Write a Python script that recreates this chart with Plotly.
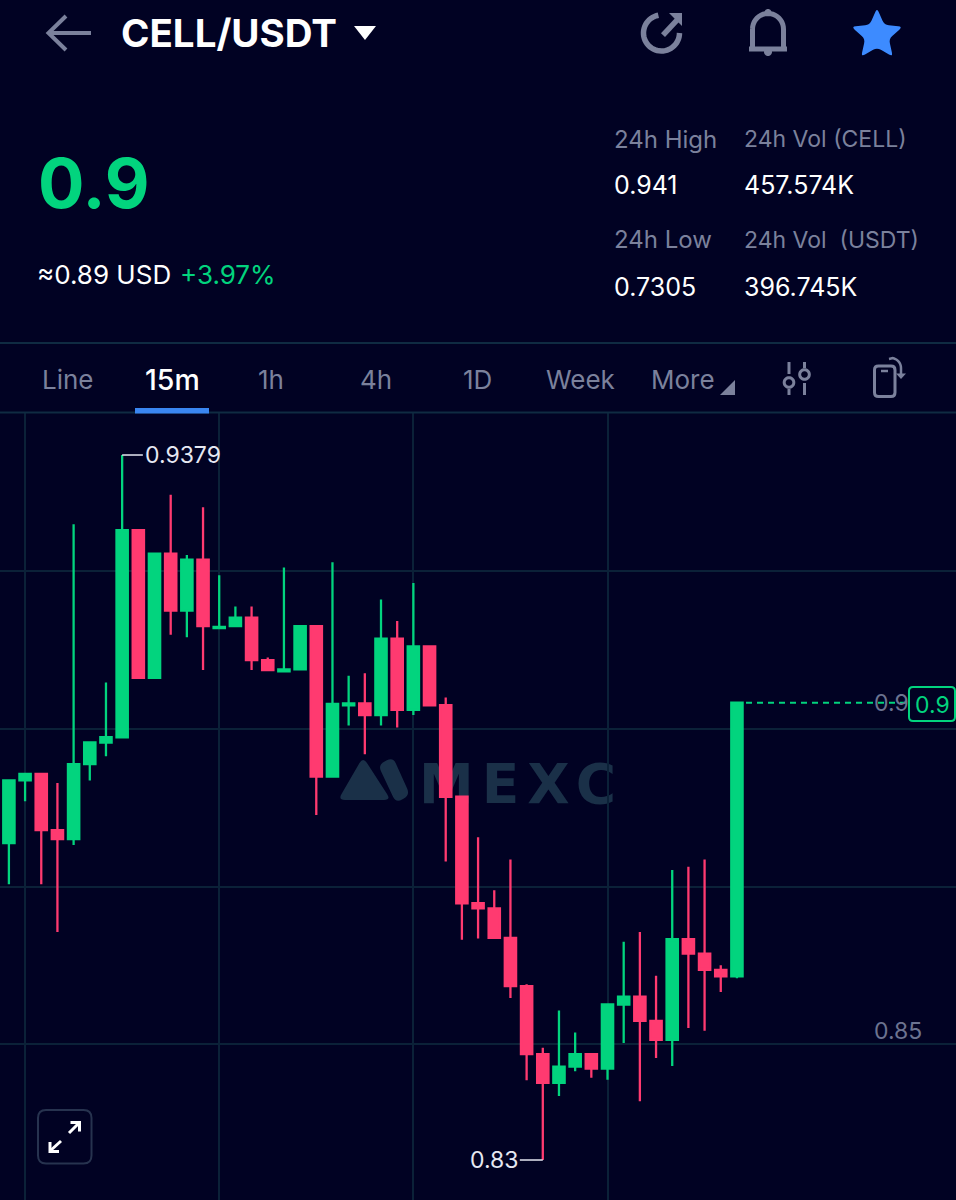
import math
import plotly.graph_objects as go

# ---------- data ----------
candle_index = list(range(46))
opens = [.8785,.8881,.8891,.8805,.8791,.8906,.8939,.8947,.9264,.9038,.9228,.9141,.9219,.9114,.9117,.9130,
         .9065,.9048,.9051,.9117,.8887,.8996,.8999,.8981,.9098,.8989,.9086,.8996,.8856,.8693,.8685,.8640,
         .8566,.8462,.8418,.8443,.8462,.8440,.8538,.8550,.8513,.8484,.8638,.8616,.8591,.8581]
highs = [.8881,.8891,.8891,.8877,.9273,.8939,.9031,.9379,.9264,.9229,.9318,.9226,.9299,.9195,.9147,.9147,
         .9069,.9207,.9117,.9117,.9215,.9041,.9045,.9158,.9125,.9183,.9086,.9008,.8856,.8794,.8713,.8760,
         .8569,.8472,.8529,.8495,.8462,.8538,.8634,.8649,.8582,.8744,.8749,.8760,.8598,.9000]
lows = [.8722,.8849,.8722,.8649,.8782,.8881,.8918,.8947,.9038,.9038,.9104,.9100,.9050,.9114,.9117,.9050,
        .9050,.9048,.9051,.8828,.8887,.8965,.8921,.8965,.8962,.8981,.8996,.8757,.8637,.8639,.8640,.8548,
        .8422,.8300,.8398,.8436,.8426,.8423,.8479,.8390,.8456,.8444,.8502,.8498,.8557,.8578]
closes = [.8881,.8891,.8805,.8791,.8906,.8939,.8947,.9264,.9038,.9228,.9141,.9219,.9117,.9116,.9130,.9065,
          .9050,.9051,.9117,.8887,.8998,.8999,.8981,.9098,.8989,.9086,.8996,.8856,.8693,.8685,.8640,.8566,
          .8462,.8418,.8443,.8462,.8440,.8538,.8550,.8513,.8484,.8638,.8616,.8591,.8581,.9000]
grid_prices = [.9201, .8960, .8718, .8478]
grid_candles = [1, 13, 25, 37]
axis_labels = [0.9, 0.85]
high_label = "0.9379"
low_label = "0.83"
last_label = "0.9"
tabs = ["Line", "15m", "1h", "4h", "1D", "Week", "More"]

# ---------- style ----------
W, H = 956, 1200
BG = "#010223"
GREEN = "#02D47E"
RED = "#FF3A70"
GRID = "#0B2138"
GREY = "#7B819C"
AXIS_GREY = "#6C7390"
WHITE = "#FFFFFF"
BLUE = "#3D8BFF"
FONT = "Inter"


def fx(x):
    return x / W


def fy(y):
    return 1 - y / H


def line_path(points, closed=False):
    s = "M " + " L ".join(f"{fx(x):.5f} {fy(y):.5f}" for x, y in points)
    return s + (" Z" if closed else "")


def rounded_path(points, r):
    n = len(points)
    out = []
    for i in range(n):
        p0, p1, p2 = points[i - 1], points[i], points[(i + 1) % n]
        d1 = math.dist(p0, p1)
        d2 = math.dist(p1, p2)
        r1, r2 = min(r, d1 / 2), min(r, d2 / 2)
        a = (p1[0] + (p0[0] - p1[0]) * r1 / d1, p1[1] + (p0[1] - p1[1]) * r1 / d1)
        b = (p1[0] + (p2[0] - p1[0]) * r2 / d2, p1[1] + (p2[1] - p1[1]) * r2 / d2)
        out.append(f"{'M' if i == 0 else 'L'} {fx(a[0]):.5f} {fy(a[1]):.5f}")
        out.append(f"Q {fx(p1[0]):.5f} {fy(p1[1]):.5f} {fx(b[0]):.5f} {fy(b[1]):.5f}")
    return " ".join(out) + " Z"


def arc(cx, cy, r, a0, a1, n=28):
    return [(cx + r * math.cos(math.radians(a0 + (a1 - a0) * i / n)),
             cy + r * math.sin(math.radians(a0 + (a1 - a0) * i / n))) for i in range(n + 1)]


def circle(cx, cy, r):
    return line_path(arc(cx, cy, r, 0, 360, 36)[:-1], True)


shapes = []


def stroke(path, color=GREY, width=3, fill=None, layer="above"):
    shapes.append(dict(type="path", xref="paper", yref="paper", path=path, layer=layer,
                       line=dict(color=color, width=width), fillcolor=fill or "rgba(0,0,0,0)"))


def fill(path, color, layer="above"):
    shapes.append(dict(type="path", xref="paper", yref="paper", path=path, layer=layer,
                       line=dict(width=0), fillcolor=color))


# back arrow, caret
stroke(line_path([(49, 33), (91, 33)]), GREY, 4)
stroke(line_path([(66, 16), (48.5, 33), (66, 50)]), GREY, 4)
fill(line_path([(354, 26), (376, 26), (365, 40)], True), WHITE)

# share icon
stroke(line_path(arc(661.5, 33, 18, -100, -360 + 0, 40)), GREY, 5.5)
stroke(line_path([(663, 35), (677, 20)]), GREY, 5.5)
fill(line_path([(669, 13), (682, 13), (682, 26)], True), GREY)

# bell
stroke(line_path(arc(768, 29, 15.5, 180, 360, 20) + [(783.5, 48)]) + " " + line_path([(752.5, 29), (752.5, 48)]),
       GREY, 5)
stroke(line_path([(749, 49), (787, 49)]), GREY, 5)
fill(circle(768, 12.5, 3.5), GREY)
fill(circle(768, 52, 4), GREY)

# star
star = []
for k in range(10):
    rad = 27 if k % 2 == 0 else 12.5
    ang = math.radians(-90 + 36 * k)
    star.append((877 + rad * math.cos(ang), 35 + rad * math.sin(ang)))
fill(rounded_path(star, 4.5), BLUE)

# header rules, tab underline
stroke(line_path([(0, 343), (956, 343)]), "#0F2B42", 2)
stroke(line_path([(0, 412.5), (956, 412.5)]), "#0F2B42", 2)
fill(line_path([(135, 408), (209, 408), (209, 413.5), (135, 413.5)], True), "#3A86F0")
fill(line_path([(735, 380), (735, 395), (720, 395)], True), GREY)

# sliders
stroke(line_path([(789, 362), (789, 374)]), GREY, 3)
stroke(circle(789, 382.5, 4.8), GREY, 3)
stroke(line_path([(789, 389), (789, 395)]), GREY, 3)
stroke(line_path([(804.5, 362), (804.5, 368)]), GREY, 3)
stroke(circle(804.5, 374.5, 4.8), GREY, 3)
stroke(line_path([(804.5, 383), (804.5, 395)]), GREY, 3)

# rotate phone
stroke(rounded_path([(874.5, 366), (895, 366), (895, 396.5), (874.5, 396.5)], 4), GREY, 3)
stroke(line_path([(881, 371), (888, 371)]), GREY, 2.5)
stroke(line_path([(889, 359)] + arc(891, 368, 10, -80, 0, 10) + [(901, 376)]), GREY, 2.5)
fill(line_path([(896, 373.5), (906, 373.5), (901, 379)], True), GREY)

# expand button
stroke(rounded_path([(38, 1110), (91.5, 1110), (91.5, 1163.5), (38, 1163.5)], 8), "#27334F", 2)
stroke(line_path([(69, 1133), (79, 1123)]), WHITE, 3)
stroke(line_path([(70.5, 1122.5), (79.5, 1122.5), (79.5, 1131.5)]), WHITE, 3)
stroke(line_path([(61, 1141), (50, 1151)]), WHITE, 3)
stroke(line_path([(50, 1142), (50, 1151.5), (59, 1151.5)]), WHITE, 3)

# watermark logo and word
WM = "#1A3048"
fill(rounded_path([(363, 757), (391, 800), (338, 800)], 7), WM, "below")
fill(rounded_path([(378, 765), (393, 757), (410, 795), (396, 803)], 7), WM, "below")
shapes.append(dict(type="rect", xref="paper", yref="paper", x0=fx(424), x1=fx(619), y0=fy(805), y1=fy(755),
                   layer="below", line=dict(width=0), fillcolor="rgba(0,0,0,0)",
                   label=dict(text="<b>MEXC</b>", font=dict(family="DejaVu Sans", size=55, color=WM),
                              textposition="middle center")))

# last-price dashed line and boxed label
shapes.append(dict(type="line", xref="paper", yref="y", x0=fx(746), x1=fx(908),
                   y0=closes[-1], y1=closes[-1], layer="above",
                   line=dict(color=GREEN, width=2, dash="6px,5px")))
stroke(rounded_path([(909, 687), (955, 687), (955, 721), (909, 721)], 4), GREEN, 2, BG)

# ---------- text ----------
annotations = []


def text(x, y, s, size, color, anchor="left", weight=None):
    f = dict(family=FONT, size=size, color=color)
    if weight:
        f["weight"] = weight
    annotations.append(dict(xref="paper", yref="paper", x=fx(x), y=fy(y), text=s, showarrow=False,
                            xanchor=anchor, yanchor="middle", font=f, borderpad=0))


text(119.5, 33, "CELL/USDT", 38.5, WHITE, weight=700)
text(36.5, 183, last_label, 69, GREEN, weight=700)
text(36, 275, "≈0.89 USD", 26, WHITE)
text(179, 275, "+3.97%", 26, GREEN)
text(612.5, 139, "24h High", 24, GREY)
text(742.5, 139, "24h Vol (CELL)", 23, GREY)
text(612.5, 185, "0.941", 25, WHITE)
text(742.5, 185, "457.574K", 25, WHITE)
text(612.5, 240, "24h Low", 24, GREY)
text(742.5, 240, "24h Vol  (USDT)", 23, GREY)
text(612.5, 287, "0.7305", 25, WHITE)
text(742.5, 287, "396.745K", 25, WHITE)

tab_x = [40.5, 143.5, 257, 358.5, 461.5, 544.5, 649.5]
for label, tx in zip(tabs, tab_x):
    text(tx, 379, label, 28.5 if label == "15m" else 26, WHITE if label == "15m" else GREY,
         weight=500 if label == "15m" else 400)

text(932.5, 705, last_label, 23, GREEN, anchor="center")
for val in axis_labels:
    annotations.append(dict(xref="paper", yref="y", x=fx(871.5), y=val, yshift=-2 if val == 0.85 else 0,
                            text=f"{val:g}", showarrow=False, xanchor="left", yanchor="middle",
                            font=dict(family=FONT, size=23, color=AXIS_GREY)))

imax = highs.index(max(highs))
imin = lows.index(min(lows))
annotations.append(dict(xref="x", yref="y", x=imax + 1.26, y=max(highs), text=high_label, showarrow=False,
                        xanchor="left", yanchor="middle", font=dict(family=FONT, size=23, color="#E6E8F2")))
annotations.append(dict(xref="x", yref="y", x=imin - 1.42, y=min(lows), text=low_label, showarrow=False,
                        xanchor="right", yanchor="middle", font=dict(family=FONT, size=23, color="#E6E8F2")))

# ---------- figure ----------
fig = go.Figure()
fig.add_trace(go.Candlestick(
    x=candle_index, open=opens, high=highs, low=lows, close=closes,
    increasing=dict(line=dict(color=GREEN, width=2.3), fillcolor=GREEN),
    decreasing=dict(line=dict(color=RED, width=2.3), fillcolor=RED),
    hoverinfo="skip", showlegend=False,
))
fig.add_trace(go.Scatter(x=[imax, imax + 1.28], y=[max(highs)] * 2, mode="lines",
                         line=dict(color="#E6E8F2", width=1.5), hoverinfo="skip", showlegend=False))
fig.add_trace(go.Scatter(x=[imin - 1.42, imin], y=[min(lows)] * 2, mode="lines",
                         line=dict(color="#E6E8F2", width=1.5), hoverinfo="skip", showlegend=False))

fig.update_layout(
    width=W, height=H, margin=dict(l=0, r=0, t=0, b=0, pad=0),
    paper_bgcolor=BG, plot_bgcolor=BG, boxgap=0.3, boxgroupgap=0, showlegend=False,
    shapes=shapes, annotations=annotations, font=dict(family=FONT),
    xaxis=dict(range=[-0.55, 58.54], tickmode="array", tickvals=grid_candles, showticklabels=False,
               showgrid=True, gridcolor=GRID, gridwidth=2, zeroline=False, rangeslider=dict(visible=False),
               ticks="", showline=False, fixedrange=True),
    yaxis=dict(domain=[0, 1 - 413 / H], range=[0.82388, 0.94433], tickmode="array", tickvals=grid_prices,
               showticklabels=False, showgrid=True, gridcolor=GRID, gridwidth=2, zeroline=False,
               ticks="", showline=False, fixedrange=True),
)

fig.write_html(
    "out.html",
    config=dict(displayModeBar=False),
    post_script="document.body.style.margin='0';document.body.style.background='#010223';"
                "document.documentElement.style.overflow='hidden';"
                "document.querySelectorAll('.layer-below text, .shapelayer text').forEach(function(t){"
                "t.style.letterSpacing='8px';});",
)
